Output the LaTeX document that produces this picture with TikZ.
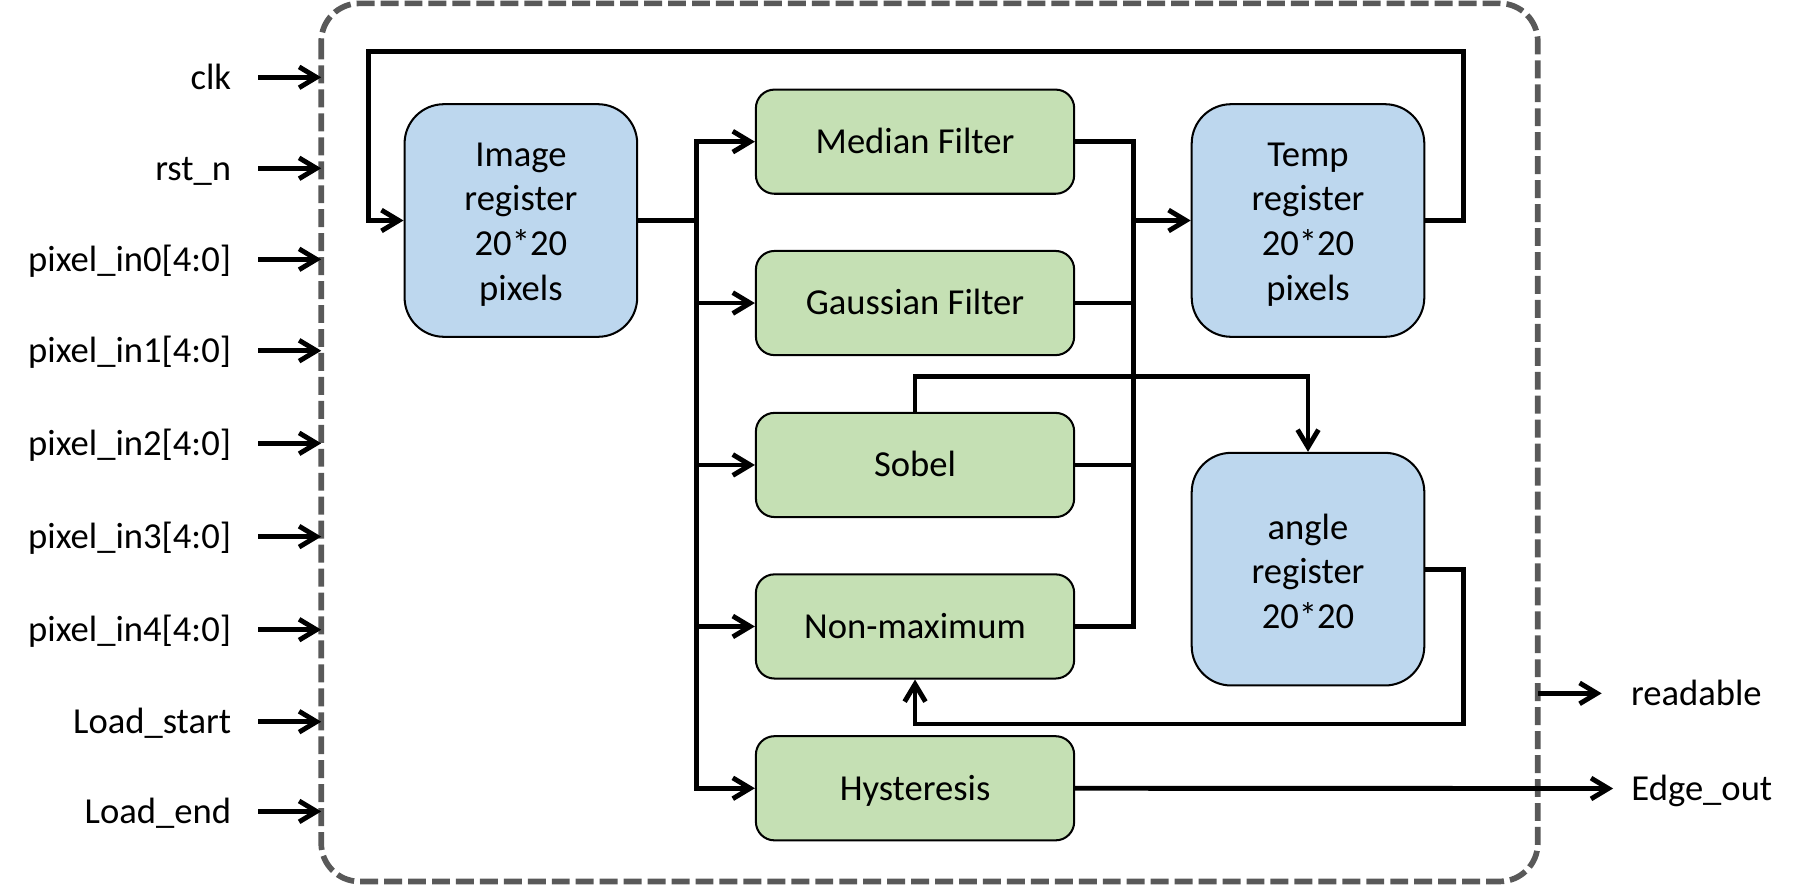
\documentclass[tikz,border=0pt]{standalone}
\usepackage{fontspec}
\setmainfont{Carlito}
\usepackage{tikz}
\usetikzlibrary{arrows.meta}

\definecolor{regblue}{HTML}{BDD7EE}
\definecolor{filtgreen}{HTML}{C5E0B4}
\definecolor{framegray}{HTML}{595959}

\tikzset{
	reg/.style={draw, line width=1pt, fill=regblue, rounded corners=0.68cm, minimum width=4.02cm, minimum height=4.02cm, inner sep=0pt, align=center, text depth=4pt},
	filt/.style={draw, line width=1pt, fill=filtgreen, rounded corners=0.32cm, minimum width=5.5cm, minimum height=1.8cm, inner sep=0pt, text height=15.3pt, text depth=3.6pt},
	wire/.style={line width=2.4pt},
	insig/.style={anchor=east, inner xsep=0.46cm, inner ysep=0pt, text height=15.3pt, text depth=3.6pt},
	outsig/.style={anchor=west, inner xsep=0.31cm, inner ysep=0pt, text height=15.3pt, text depth=3.6pt},
	frame/.style={draw=framegray, line width=2.8pt, dash pattern=on 0.31cm off 0.104cm, rounded corners=0.66cm}
}

\begin{document}
\begin{tikzpicture}[x=0.02cm, y=-0.02cm, font=\fontsize{18}{22}\selectfont, >={Straight Barb[length=0.3cm, width=0.36cm]}]
				\useasboundingbox (0,0) rectangle (1568,765.4);
				\draw[frame] (277.5,2.9) rectangle (1328.5,761.5);

				% registers
				\node[reg, text height=82.4pt] (imgreg) at (450,190.5) {Image\\register\\20*20\\pixels};
				\node[reg, text height=82.4pt] (tmpreg) at (1130,190.5) {Temp\\register\\20*20\\pixels};
				\node[reg, text height=62.4pt] (angreg) at (1130,491.7) {angle\\register\\20*20};

				% filters
				\node[filt] (median) at (790.5,122.4) {Median Filter};
				\node[filt] (gauss) at (790.5,261.8) {Gaussian Filter};
				\node[filt] (sobel) at (790.5,401.7) {Sobel};
				\node[filt] (nonmax) at (790.5,541.2) {Non-maximum};
				\node[filt] (hyst) at (790.5,681) {Hysteresis};

				\coordinate (bus) at (602,0);
				\coordinate (col) at (979,0);
				\coordinate (fbR) at (1264.3,44.6);
				\coordinate (fbL) at (318,44.6);
				\coordinate (angtap) at (1130,325);
				\coordinate (angR) at (1264.3,625.5);

				% inputs
				\foreach \nm/\txt/\y in {clk/clk/66.8, rst/rst\_n/145.4, pin0/pixel\_in0[4:0]/224, pin1/pixel\_in1[4:0]/303, pin2/pixel\_in2[4:0]/383, pin3/pixel\_in3[4:0]/463.6, pin4/pixel\_in4[4:0]/544, lds/Load\_start/623.5, lde/Load\_end/701}{
					\node[insig] (\nm) at (223,\y) {\txt};
					\coordinate (\nm b) at (277.5,\y);
					\draw[wire, ->] (\nm.east) -- (\nm b);
				}

				% image register to filters
				\draw[wire]  (imgreg.east) -- (imgreg.east -| bus);
				\draw[wire, <->]  (median.west) -- (median.west -| bus) -- (hyst.west -| bus) -- (hyst.west);
				\foreach \f in {gauss, sobel, nonmax}
					\draw[wire, ->]  (\f.west -| bus) -- (\f.west);

				% filters to temp register
				\draw[wire]  (median.east) -| (nonmax.east -| col) -- (nonmax.east);
				\draw[wire]  (gauss.east) -- (gauss.east -| col);
				\draw[wire]  (sobel.east) -- (sobel.east -| col);
				\draw[wire, ->]  (tmpreg.west -| col) -- (tmpreg.west);

				% loops
				\draw[wire, ->]  (tmpreg.east) -| (fbR) -- (fbL) |- (imgreg.west);
				\draw[wire, ->]  (sobel.north) |- (angtap) -- (angreg.north);
				\draw[wire, ->]  (angreg.east) -| (angR) -| (nonmax.south);

				% outputs
				\coordinate (rdyb) at (1328.5,599);
				\node[outsig, inner xsep=0.5cm] (readable) at (1383.7,599) {readable};
				\node[outsig] (edgeout) at (1393.6,681.2) {Edge\_out};
				\draw[wire, ->]  (rdyb) -- (readable.west);
				\draw[wire, ->]  (hyst.east) -- (edgeout.west);
			\end{tikzpicture}
\end{document}
